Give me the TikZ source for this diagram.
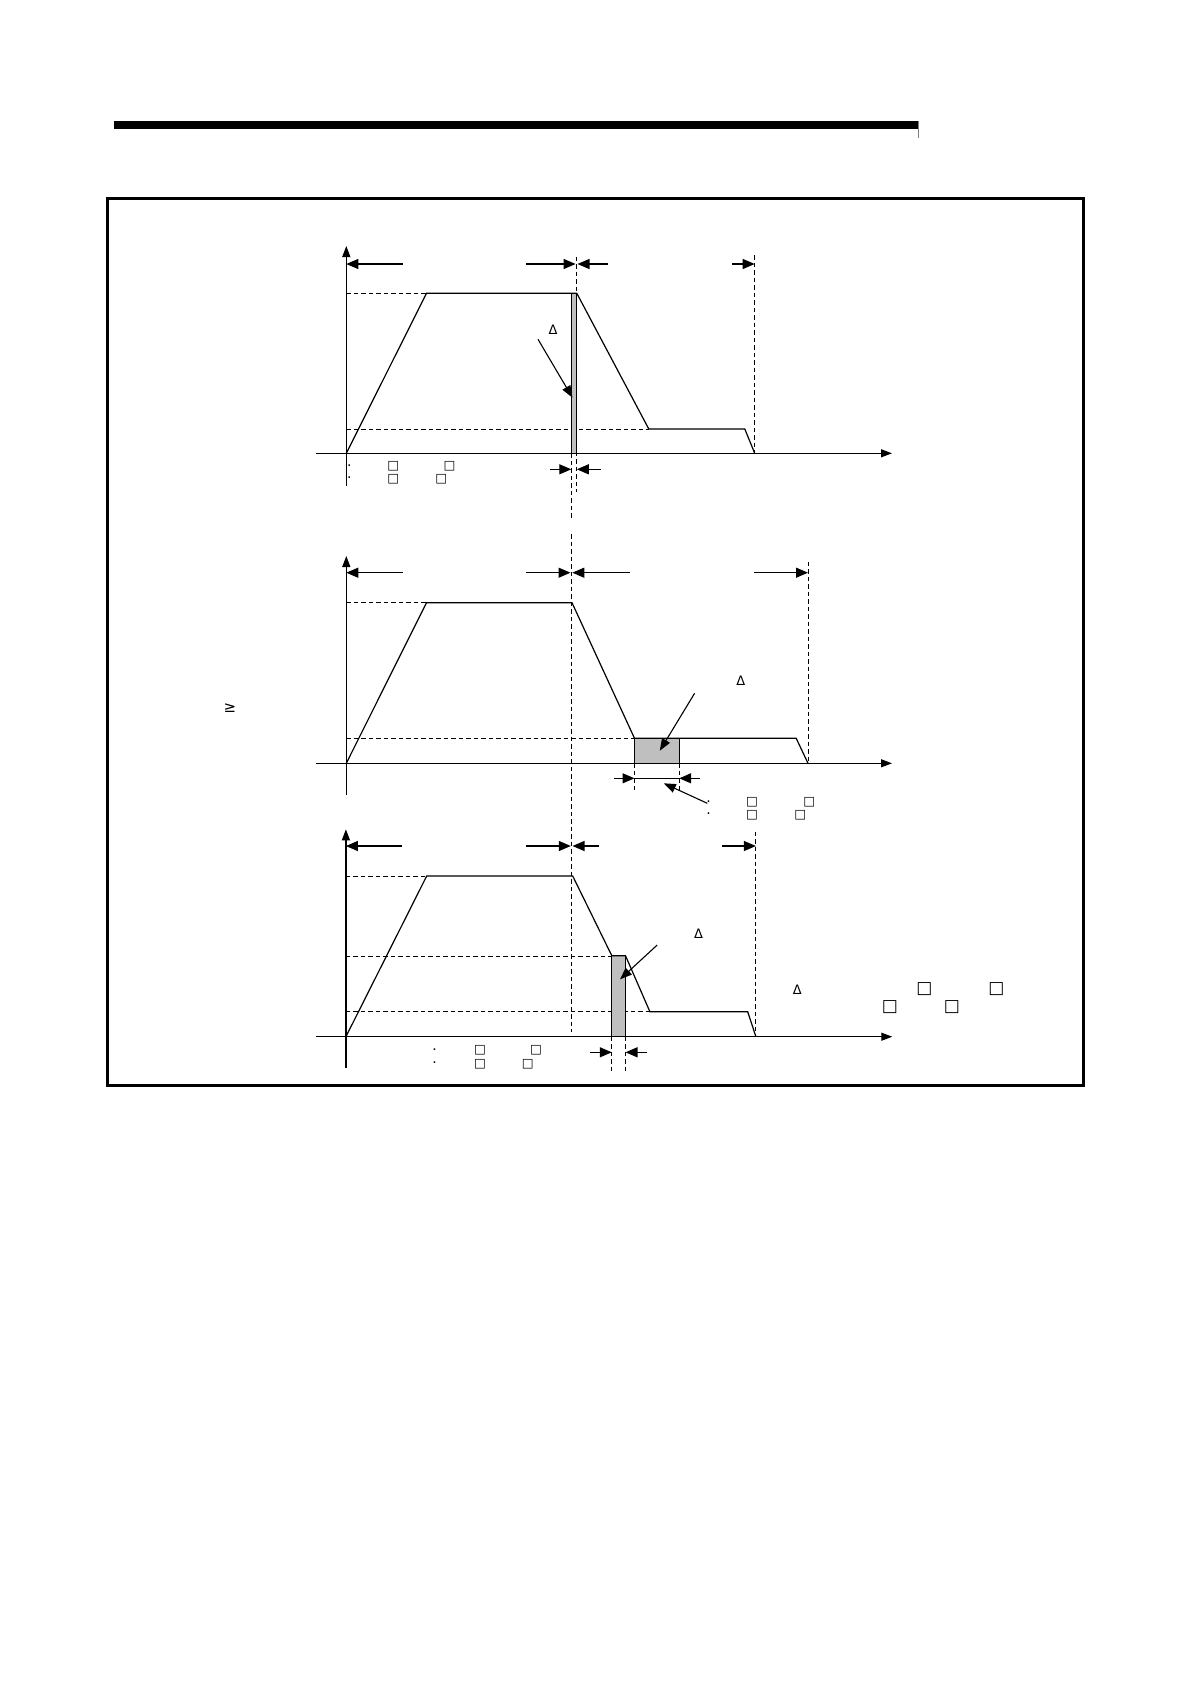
\documentclass[tikz,border=0pt]{standalone}
\usepackage{fontspec}
\newfontfamily\dv{DejaVu Sans}
\usetikzlibrary{arrows.meta}
\tikzset{
  axisline/.style={line width=1.2pt,-{Triangle[length=11pt,width=8pt]}},
  dimarrow/.style={line width=1.2pt,-{Triangle[length=12pt,width=10pt]}},
  ptr/.style={line width=1.1pt,-{Triangle[length=12pt,width=9pt]}},
  guide/.style={line width=0.9pt,dash pattern=on 4.5pt off 3pt},
  profile/.style={line width=1.2pt,line join=miter},
  graybar/.style={fill=black!25,draw=black,line width=1.2pt},
  delta/.style={inner sep=0pt,font=\dv\fontsize{13}{13}\selectfont},
  sbox/.style={inner sep=0pt,font=\dv\fontsize{12.5}{12.5}\selectfont},
  lbox/.style={inner sep=0pt,font=\dv\fontsize{17}{17}\selectfont},
  dotmark/.style={inner sep=0pt,font=\dv\fontsize{14}{14}\selectfont},
}
\begin{document}
\begin{tikzpicture}[x=1pt,y=-1pt]
\useasboundingbox (0,0) rectangle (1190,1684);
% header bar
\fill (113.8,121.4) rectangle (918.3,128.9);
\draw[black!50,line width=0.6pt] (918.3,121) -- (918.3,137.7);
% frame
\draw[line width=2.7pt] (107.4,198.5) rectangle (1083.7,1085.7);

% ================= TOP CHART =================
\fill[black!25] (571.3,293.3) rectangle (576.8,453.3);
\draw[guide] (346.3,293.3) -- (426.5,293.3);
\draw[guide] (346.3,429) -- (648.8,429);
\draw[guide] (576.8,256.7) -- (576.8,491.7);
\draw[guide] (571.3,453.3) -- (571.3,518);
\draw[guide] (754.7,255) -- (754.7,453.3);
\draw[graybar] (571.3,293.3) rectangle (576.8,453.3);
\draw[profile] (346.3,453.3) -- (426.5,293.3) -- (576.8,293.3) -- (648.8,429) -- (744.8,429) -- (754.7,453.3);
\draw[axisline] (346.3,486) -- (346.3,246);
\draw[axisline] (315.8,453.3) -- (892,453.3);
\draw[dimarrow] (402.8,264) -- (346.3,264);
\draw[dimarrow] (526.2,264) -- (575.6,264);
\draw[dimarrow] (608.4,264) -- (577.5,264);
\draw[dimarrow] (732.2,264) -- (754.7,264);
\draw[dimarrow] (550,469.3) -- (571.3,469.3);
\draw[dimarrow] (600.5,469.3) -- (576.8,469.3);
\node[delta] (td) at (553,330) {Δ};
\coordinate (tps) at (538,339.3);
\coordinate (tpe) at (572.5,397.7);
\draw[ptr] (tps) -- (tpe);
\node[dotmark] (tdot1) at (349.4,465.5) {.};
\node[dotmark] (tdot2) at (349.4,478.1) {.};
\node[sbox] (tb1) at (393.3,466) {□};
\node[sbox] (tb2) at (449.5,466) {□};
\node[sbox] (tb3) at (393.3,479.3) {□};
\node[sbox] (tb4) at (441.2,479.3) {□};

% ================= MIDDLE CHART =================
\fill[black!25] (634.5,738.3) rectangle (679.2,763.3);
\draw[guide] (346.3,602.7) -- (426.5,602.7);
\draw[guide] (346.3,738.3) -- (634.5,738.3);
\draw[guide] (571.3,534) -- (571.3,1031.7);
\draw[guide] (808,561.7) -- (808,763.3);
\draw[guide] (634.5,763.3) -- (634.5,793.3);
\draw[guide] (679.2,763.3) -- (679.2,793.3);
\draw[graybar] (634.5,738.3) rectangle (679.2,763.3);
\draw[profile] (346.3,763.3) -- (426.5,602.7) -- (572,602.7) -- (634.5,738.3) -- (796.2,738.3) -- (808,763.3);
\draw[axisline] (346.3,795) -- (346.3,556);
\draw[axisline] (315.8,763.3) -- (892,763.3);
\draw[dimarrow] (402.8,572.7) -- (346.3,572.7);
\draw[dimarrow] (526.2,572.7) -- (570.5,572.7);
\draw[dimarrow] (630.2,572.7) -- (572.3,572.7);
\draw[dimarrow] (754,572.7) -- (808,572.7);
\draw[dimarrow] (614.4,778.3) -- (634.5,778.3);
\draw[dimarrow] (700.2,778.3) -- (679.2,778.3);
\draw[line width=1.2pt] (634.5,778.3) -- (679.2,778.3);
\node[delta] (md) at (740.9,680.7) {Δ};
\coordinate (mps) at (694.6,693.3);
\coordinate (mpe) at (659.8,750.7);
\draw[ptr] (mps) -- (mpe);
\coordinate (mqs) at (707.3,803.3);
\coordinate (mqe) at (663.8,783.3);
\draw[ptr] (mqs) -- (mqe);
\node[dotmark] (mdot1) at (708.5,801.5) {.};
\node[dotmark] (mdot2) at (708.5,814.1) {.};
\node[sbox] (mb1) at (752,802.7) {□};
\node[sbox] (mb2) at (809.3,802.7) {□};
\node[sbox] (mb3) at (752,815.3) {□};
\node[sbox] (mb4) at (800.2,815.3) {□};
\node[inner sep=0pt,font=\dv\fontsize{15}{15}\selectfont] (ge) at (230,708) {≥};

% ================= BOTTOM CHART =================
\fill[black!25] (611.8,955.7) rectangle (625.5,1036.7);
\draw[guide] (345.9,876) -- (426.7,876);
\draw[guide] (345.9,956) -- (612,956);
\draw[guide] (345.9,1011.7) -- (649.9,1011.7);
\draw[guide] (755.9,831.7) -- (755.9,1036.7);
\draw[guide] (611.8,1036.7) -- (611.8,1070.7);
\draw[guide] (625.5,1036.7) -- (625.5,1070.7);
\draw[graybar] (611.8,955.7) rectangle (625.5,1036.7);
\draw[profile] (345.9,1036.7) -- (426.7,876) -- (572.7,876) -- (611.8,955.7) -- (625.5,955.7) -- (649.9,1011.7) -- (747.7,1011.7) -- (755.9,1036.7);
\draw[axisline] (345.9,1068.3) -- (345.9,829.3);
\draw[axisline] (316,1036.7) -- (892.3,1036.7);
\draw[dimarrow] (401.9,846) -- (345.9,846);
\draw[dimarrow] (525.9,846) -- (570.8,846);
\draw[dimarrow] (599.4,846) -- (572.5,846);
\draw[dimarrow] (722.4,846) -- (755.9,846);
\draw[dimarrow] (590.2,1052.3) -- (611.8,1052.3);
\draw[dimarrow] (646.6,1052.3) -- (625.5,1052.3);
\node[delta] (bd1) at (698.5,933.3) {Δ};
\node[delta] (bd2) at (797.2,990) {Δ};
\coordinate (bps) at (657.2,945);
\coordinate (bpe) at (620,979.3);
\draw[ptr] (bps) -- (bpe);
\node[lbox] (bb1) at (924.4,989.3) {□};
\node[lbox] (bb2) at (996.5,989.3) {□};
\node[lbox] (bb3) at (890,1006.7) {□};
\node[lbox] (bb4) at (952,1006.7) {□};
\node[dotmark] (bdot1) at (434.5,1049.5) {.};
\node[dotmark] (bdot2) at (434.5,1062.8) {.};
\node[sbox] (bs1) at (480,1050.7) {□};
\node[sbox] (bs2) at (536,1050.7) {□};
\node[sbox] (bs3) at (480,1064) {□};
\node[sbox] (bs4) at (527.7,1064) {□};
\end{tikzpicture}
\end{document}
